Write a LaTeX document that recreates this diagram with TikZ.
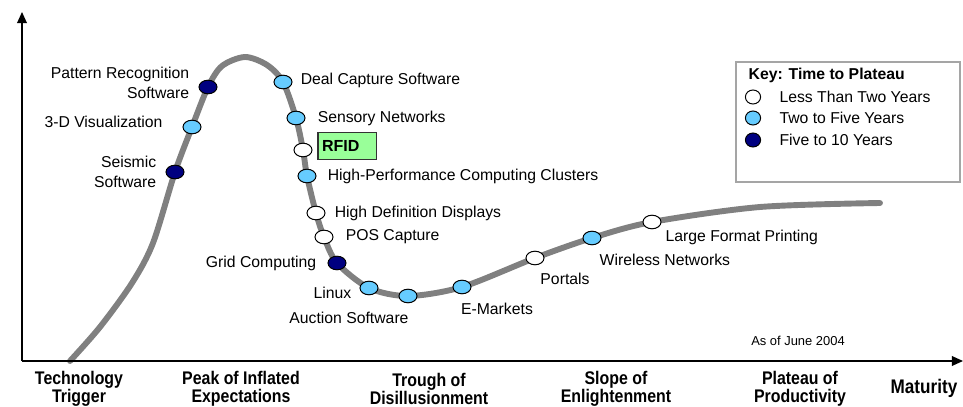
\documentclass[tikz,border=0pt]{standalone}
\usepackage{fontspec}
\setmainfont{Liberation Sans}
\newfontfamily\narrowfont[FakeStretch=0.87]{Liberation Sans}
\usetikzlibrary{positioning,shapes.geometric,arrows.meta,backgrounds}
\definecolor{hypegray}{RGB}{128,128,128}
\definecolor{shortblue}{RGB}{102,204,255}
\definecolor{longnavy}{RGB}{0,0,128}
\definecolor{rfidgreen}{RGB}{153,255,153}
\definecolor{keygray}{RGB}{165,165,165}

\begin{document}
\begin{tikzpicture}[
        x=0.025cm, y=-0.025cm,
        dot/.style={ellipse, draw, line width=0.7pt, inner sep=0pt, minimum width=0.45cm, minimum height=0.34cm},
        soon/.style={dot, fill=white},
        mid/.style={dot, fill=shortblue},
        late/.style={dot, fill=longnavy},
        keydot/.style={dot, minimum width=0.38cm, minimum height=0.35cm},
        lbl/.style={inner sep=1pt, font=\fontsize{11.2}{13.8}\selectfont},
        phase/.style={align=center, inner sep=0pt, font=\narrowfont\bfseries\fontsize{13}{12.8}\selectfont},
        axis/.style={line width=1pt, -{Triangle[length=8pt,width=7pt]}}
    ]
        \useasboundingbox (0,0) rectangle (963,407);

        % Axes
        \coordinate (origin) at (22,361);
        \coordinate (ytip) at (22,12);
        \coordinate (xtip) at (963,361);
        \draw[axis] (origin) -- (ytip);
        \draw[axis] (origin) -- (xtip);

        % Rising edge
        \node[late] (seismic) at (175,172) {};
        \node[mid] (vis) at (192,127) {};
        \node[late] (pattern) at (208,87) {};

        % Falling edge
        \node[mid] (deal) at (283,82) {};
        \node[mid] (sensory) at (296,118) {};
        \node[soon] (rfid) at (303,150) {};
        \node[mid] (hpc) at (307,176) {};
        \node[soon] (hdd) at (316,213) {};
        \node[soon] (pos) at (324,237) {};
        \node[late] (grid) at (337,263) {};

        % Trough and slope
        \node[mid] (linux) at (369,288) {};
        \node[mid] (auction) at (408,296) {};
        \node[mid] (emarkets) at (462,287) {};
        \node[soon] (portals) at (535,258) {};
        \node[mid] (wireless) at (592,238) {};
        \node[soon] (largefmt) at (652,222) {};

        % The hype curve, behind the dots
        \begin{scope}[on background layer]
            \draw[hypegray, line width=4.2pt, line cap=round] plot[smooth, tension=0.5] coordinates {
                (70,361) (100,327) (132,283) (153,243) (seismic.center) (vis.center) (pattern.center)
                (222,66) (245,57) (267,65) (deal.center) (sensory.center) (rfid.center) (hpc.center)
                (hdd.center) (pos.center) (grid.center) (linux.center) (auction.center) (emarkets.center)
                (portals.center) (wireless.center) (largefmt.center) (760,207) (880,203)};
        \end{scope}

        % Labels
        \node[lbl, align=right, left=0.19cm of pattern, yshift=0.1cm] (patternlbl) {Pattern Recognition\\Software};
        \node[lbl, left=0.46cm of vis, yshift=0.12cm] (vislbl) {3-D Visualization};
        \node[lbl, align=right, left=0.19cm of seismic] (seismiclbl) {Seismic\\Software};
        \node[lbl, right=0.165cm of deal, yshift=0.05cm] (deallbl) {Deal Capture Software};
        \node[lbl, right=0.265cm of sensory] (sensorylbl) {Sensory Networks};
        \node[draw=black!80, fill=rfidgreen, line width=0.8pt, minimum height=0.675cm, text width=1.25cm,
            inner xsep=0.1cm, align=left, font=\bfseries\fontsize{11.4}{13}\selectfont,
            right=0.125cm of rfid, yshift=0.11cm] (rfidbox) {RFID};
        \node[lbl, right=0.24cm of hpc] (hpclbl) {High-Performance Computing Clusters};
        \node[lbl, right=0.19cm of hdd] (hddlbl) {High Definition Displays};
        \node[lbl, right=0.265cm of pos] (poslbl) {POS Capture};
        \node[lbl, left=0.24cm of grid] (gridlbl) {Grid Computing};
        \node[lbl, left=0.165cm of linux, yshift=-0.12cm] (linuxlbl) {Linux};
        \node[lbl] (auctionlbl) at (349,318) {Auction Software};
        \node[lbl] (emarketslbl) at (497,309) {E-Markets};
        \node[lbl] (portalslbl) at (565,279) {Portals};
        \node[lbl, anchor=west] (wirelesslbl) at (598,260) {Wireless Networks};
        \node[lbl, anchor=west] (largefmtlbl) at (664,237) {Large Format Printing};
        \node[inner sep=0pt, font=\fontsize{9.2}{11}\selectfont] (asof) at (798,341) {As of June 2004};

        % Key
        \node[draw=keygray, line width=0.8pt, minimum width=5.6cm, minimum height=3cm] (key) at (848,122) {};
        \node[lbl, anchor=west, font=\bfseries\fontsize{11.2}{13}\selectfont] (keytitle) at (747,75) {Key: Time to Plateau};
        \node[keydot, fill=white] (keysoon) at (753,97) {};
        \node[keydot, fill=shortblue] (keymid) at (753,118) {};
        \node[keydot, fill=longnavy] (keylate) at (753,140) {};
        \node[lbl, right=0.42cm of keysoon] (keysoonlbl) {Less Than Two Years};
        \node[lbl, right=0.42cm of keymid] (keymidlbl) {Two to Five Years};
        \node[lbl, right=0.42cm of keylate] (keylatelbl) {Five to 10 Years};

        % Phases along the axis
        \node[phase] (trigger) at (79,389) {Technology\\Trigger};
        \node[phase] (peak) at (241,389) {Peak of Inflated\\Expectations};
        \node[phase] (trough) at (429,389) {Trough of\\Disillusionment};
        \node[phase] (slope) at (616,389) {Slope of\\Enlightenment};
        \node[phase] (plateau) at (800,389) {Plateau of\\Productivity};
        \node[phase, font=\narrowfont\bfseries\fontsize{14}{16}\selectfont] (maturity) at (924,388) {Maturity};
    \end{tikzpicture}
\end{document}
